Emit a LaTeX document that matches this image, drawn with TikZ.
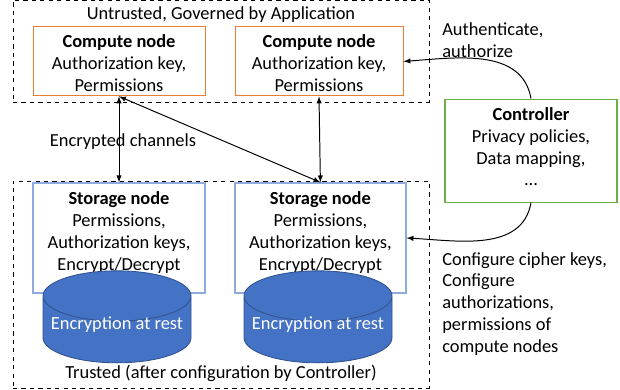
\documentclass[tikz,border=0pt]{standalone}
\usepackage{fontspec}
\setmainfont{Carlito}
\usetikzlibrary{shapes.geometric}
\definecolor{computeline}{HTML}{ED7D31}
\definecolor{storageline}{HTML}{8FAADC}
\definecolor{controlline}{HTML}{70AD47}
\definecolor{diskfill}{HTML}{4472C4}
\definecolor{diskline}{HTML}{2F528F}
\newcommand{\disklabel}[1]{\raisebox{0.2pt}[0pt][0pt]{#1}}
\tikzset{
  every node/.style={font=\fontsize{13.1}{15.6}\selectfont, align=center, inner sep=0pt},
  zone/.style={draw, dashed, line width=0.6pt},
  compute/.style={draw=computeline, line width=0.7pt, minimum height=1.725cm},
  storage/.style={draw=storageline, line width=0.9pt, minimum height=2.75cm},
  control/.style={draw=controlline, line width=0.8pt, minimum width=4.3cm, minimum height=2.575cm},
  disk/.style={cylinder, shape border rotate=90, aspect=0.38, draw=diskline, line width=0.6pt,
    cylinder uses custom fill, cylinder body fill=diskfill, cylinder end fill=diskfill,
    minimum width=3.7cm, minimum height=2.3cm, text=white},
  channel/.style={<->, >=latex, line width=0.7pt},
  config/.style={->, >=latex, line width=0.7pt}
}
\begin{document}
\begin{tikzpicture}
    \useasboundingbox (0,0) rectangle (15.5,9.725);
    \node[zone, minimum width=10.4cm, minimum height=2.55cm]  (untrusted) at (5.525,8.45) {};
    \node[zone, minimum width=10.4cm, minimum height=5.175cm] (trusted)   at (5.525,2.6125) {};

    \node(untrusted-label) at (5.525,9.35) {Untrusted, Governed by Application};
    \node(trusted-label)   at (5.525,0.39) {Trusted (after configuration by Controller)};
    \node(channels-label)  at (3.075,6.19) {Encrypted channels};
    \node[anchor=west, align=left](auth-label)   at (11.05,8.715) {Authenticate,\\authorize};
    \node[anchor=west, align=left](config-label) at (11.05,2.125) {Configure cipher keys,\\Configure\\authorizations,\\permissions of\\compute nodes};

    \node[compute, minimum width=4.3cm](compute-a) at (2.975,8.19) {\rule{0pt}{11.4pt}\textbf{Compute node}\\Authorization key,\\Permissions};
    \node[compute, minimum width=4.2cm](compute-b) at (7.975,8.19) {\rule{0pt}{11.4pt}\textbf{Compute node}\\Authorization key,\\Permissions};

    \node[storage, minimum width=4.3cm](storage-a)   at (2.975,3.775) {\textbf{Storage node}\\Permissions,\\Authorization keys,\\Encrypt/Decrypt\\[-5.7pt]~};
    \node[storage, minimum width=4.275cm](storage-b) at (8.01,3.775)  {\textbf{Storage node}\\Permissions,\\Authorization keys,\\Encrypt/Decrypt\\[-5.7pt]~};

    \node[disk](disk-a) at (2.925,1.485) {\disklabel{Encryption at rest}};
    \node[disk](disk-b) at (7.95,1.485)  {\disklabel{Encryption at rest}};

    \node[control](controller) at (13.275,5.96) {\textbf{Controller}\\Privacy policies,\\Data mapping,\\...\\[-9.9pt]~};

    \draw[channel] (compute-a.south) to (storage-a.north);
    \draw[channel] (compute-a.south) to (storage-b.north);
    \draw[channel] (compute-b.south) to (storage-b.north);
    \draw[config]  (controller.north) to[out=100,in=4] (compute-b.east);
    \draw[config]  (controller.south) to[out=-100,in=-3] (storage-b.east);
\end{tikzpicture}
\end{document}
